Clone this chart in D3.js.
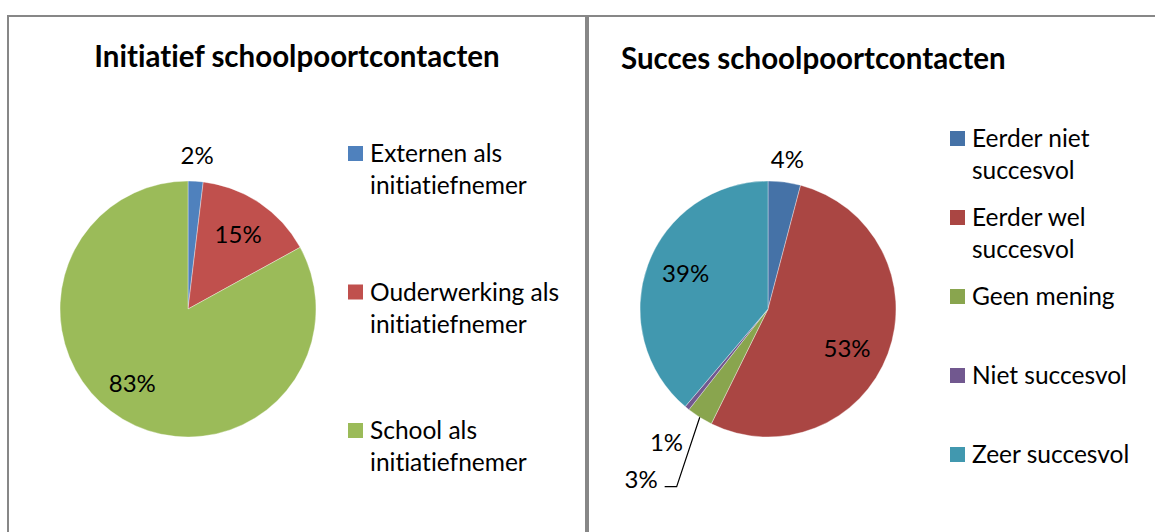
<!DOCTYPE html>
<html>
<head>
<meta charset="utf-8">
<script src="https://cdn.jsdelivr.net/npm/d3@7"></script>
<style>
  body { margin: 0; background: #fff; }
  text { font-family: Lato, "Open Sans", sans-serif; fill: #000; font-variant-ligatures: none; }
</style>
</head>
<body>
<script>
// data chart 1
var initCats = ["Externen als initiatiefnemer", "Ouderwerking als initiatiefnemer", "School als initiatiefnemer"];
var initVals = [1.9, 15.1, 83];
var initLabels = ["2%", "15%", "83%"];

// data chart 2
var succCats = ["Eerder niet succesvol", "Eerder wel succesvol", "Geen mening", "Niet succesvol", "Zeer succesvol"];
var succVals = [4.1, 53.2, 3.3, 0.6, 38.8];
var succLabels = ["4%", "53%", "3%", "1%", "39%"];

var width = 1155, height = 532;
var R = 128;

var svg = d3.select("body").append("svg")
    .attr("width", width)
    .attr("height", height);

svg.append("rect").attr("width", width).attr("height", height).attr("fill", "#fff");

// panel frames
var frame = svg.append("g").attr("stroke", "#878787").attr("stroke-width", 2);
frame.append("line").attr("x1", 7).attr("x2", width).attr("y1", 16).attr("y2", 16);
frame.append("line").attr("x1", 8).attr("x2", 8).attr("y1", 15).attr("y2", height);
frame.append("line").attr("x1", 586).attr("x2", 586).attr("y1", 15).attr("y2", height);
frame.append("line").attr("x1", 588).attr("x2", 588).attr("y1", 15).attr("y2", height);

var panels = [
  {
    title: "Initiatief schoolpoortcontacten", titleX: 297, titleY: 67, anchor: "middle",
    cats: initCats, vals: initVals, labels: initLabels,
    colors: ["#4F81BD", "#C0504D", "#9BBB59"],
    cx: 188, cy: 309,
    legX: 348, legY: 146, legStep: 138.5,
    // label placement: radius factor, angle offset (deg)
    lab: [{r: 1.2, a: 0}, {r: 0.7, a: 0}, {r: 0.73, a: 6}]
  },
  {
    title: "Succes schoolpoortcontacten", titleX: 621, titleY: 69, anchor: "start",
    cats: succCats, vals: succVals, labels: succLabels,
    colors: ["#4572A7", "#AA4643", "#89A54E", "#71588F", "#4198AF"],
    cx: 768, cy: 309,
    legX: 950, legY: 131, legStep: 79,
    lab: [{r: 1.18, a: 0}, {r: 0.69, a: 6}, {r: 1.56, a: -5, leader: true}, {r: 1.31, a: -2}, {r: 0.7, a: 3}]
  }
];

var pie = d3.pie().sort(null).value(function(d) { return d; });
var arc = d3.arc().innerRadius(0).outerRadius(R);

function polar(angle, r) {
  return [Math.sin(angle) * r, -Math.cos(angle) * r];
}

panels.forEach(function(p) {
  svg.append("text")
    .attr("x", p.titleX).attr("y", p.titleY)
    .attr("text-anchor", p.anchor)
    .attr("font-size", 29.5).attr("font-weight", "bold")
    .text(p.title);

  var g = svg.append("g").attr("transform", "translate(" + p.cx + "," + p.cy + ")");
  var arcs = pie(p.vals);

  g.selectAll("path.slice").data(arcs).enter().append("path")
    .attr("class", "slice")
    .attr("d", arc)
    .attr("fill", function(d, i) { return p.colors[i]; })
    .attr("stroke", "#fff").attr("stroke-width", 0.6).attr("stroke-opacity", 0.6);

  arcs.forEach(function(d, i) {
    var L = p.lab[i];
    var mid = (d.startAngle + d.endAngle) / 2;
    var ang = mid + L.a * Math.PI / 180;
    var pt = polar(ang, L.r * R);
    if (L.leader) {
      var start = polar(mid, R);
      g.append("polyline")
        .attr("points", [start, pt, [pt[0] - 12, pt[1]]].map(function(q) { return q.join(","); }).join(" "))
        .attr("fill", "none").attr("stroke", "#000").attr("stroke-width", 1.2);
      g.append("text")
        .attr("x", pt[0] - 19).attr("y", pt[1] + 1)
        .attr("text-anchor", "end")
        .attr("font-size", 24)
        .text(p.labels[i]);
    } else {
      g.append("text")
        .attr("x", pt[0]).attr("y", pt[1])
        .attr("dy", "0.35em")
        .attr("text-anchor", "middle")
        .attr("font-size", 24)
        .text(p.labels[i]);
    }
  });

  // legend
  var leg = svg.append("g");
  p.cats.forEach(function(c, i) {
    var y0 = p.legY + i * p.legStep;
    leg.append("rect")
      .attr("x", p.legX).attr("y", y0)
      .attr("width", 15).attr("height", 15)
      .attr("fill", p.colors[i]);
    // wrap like the original: two lines when too long
    var words = c.split(" ");
    var lines = c.length > 15 ? [words.slice(0, -1).join(" "), words[words.length - 1]] : [c];
    var t = leg.append("text")
      .attr("x", p.legX + 22).attr("y", y0 + 16)
      .attr("font-size", 24.5);
    lines.forEach(function(l, k) {
      t.append("tspan").attr("x", p.legX + 22).attr("dy", k ? 32 : 0).text(l);
    });
  });
});
</script>
</body>
</html>
